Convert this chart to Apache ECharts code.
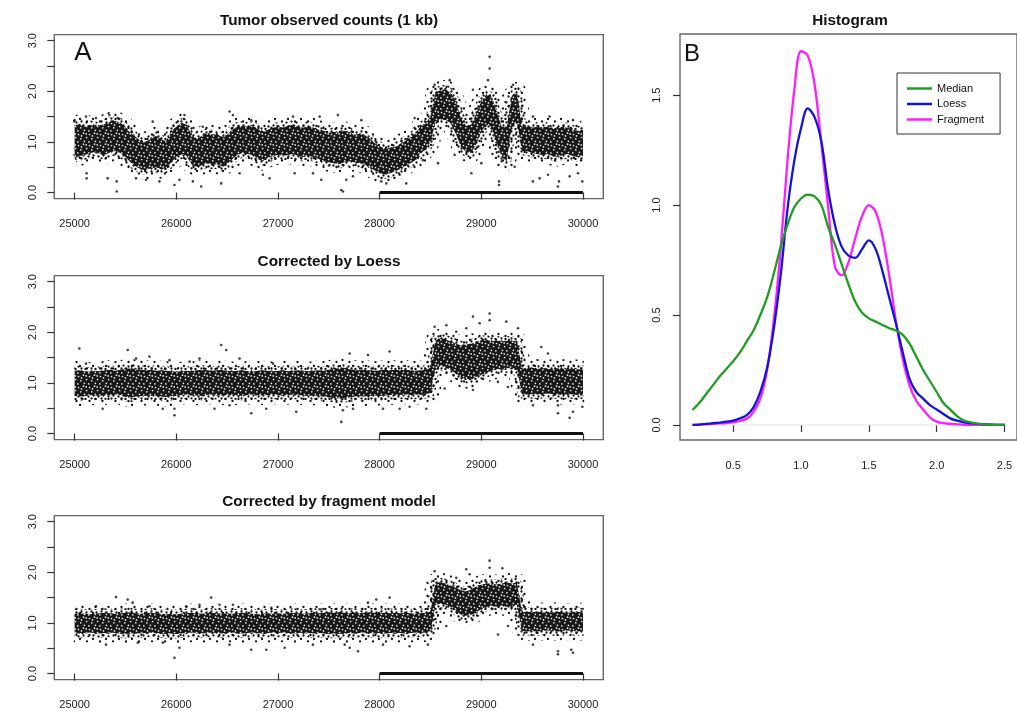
<!DOCTYPE html>
<html><head><meta charset="utf-8">
<script src="https://cdn.jsdelivr.net/npm/echarts@6/dist/echarts.min.js"></script>
<style>html,body{margin:0;padding:0;background:#fff}#c{width:1017px;height:711px}</style>
</head><body><div id="c"></div>
<script>
// ---------- DATA ----------
const titles = ['Tumor observed counts (1 kb)', 'Corrected by Loess', 'Corrected by fragment model'];
const xTicks = [25000, 26000, 27000, 28000, 29000, 30000];
const yTicks = [0, 0.5, 1, 1.5, 2, 2.5, 3];
const yLabels = [0, 1, 2, 3];
const binStart = 25000, binStep = 50;   // 50 kb bins for the dense core of each cloud
const barSegment = [28000, 30000];      // black bar drawn at y = 0

// dense core (lower / upper) of each point cloud, per bin
const tumorLo = [0.68,0.72,0.74,0.78,0.80,0.76,0.74,0.80,0.82,0.78,
 0.70,0.60,0.52,0.46,0.44,0.48,0.50,0.46,0.48,0.60,
 0.70,0.76,0.72,0.56,0.50,0.54,0.58,0.55,0.56,0.52,
 0.56,0.66,0.74,0.78,0.76,0.74,0.66,0.62,0.68,0.72,
 0.74,0.72,0.74,0.76,0.72,0.70,0.72,0.70,0.66,0.62,
 0.60,0.58,0.56,0.60,0.62,0.60,0.58,0.56,0.50,0.44,
 0.38,0.36,0.38,0.42,0.46,0.52,0.58,0.64,0.78,0.84,
 1.00,1.40,1.46,1.44,1.36,1.16,0.90,0.80,0.78,0.96,
 1.20,1.34,1.30,1.00,0.70,0.62,1.30,1.40,0.82,0.82,
 0.78,0.76,0.74,0.76,0.72,0.70,0.74,0.76,0.72,0.70,0.72];
const tumorHi = [1.32,1.36,1.30,1.34,1.30,1.33,1.36,1.40,1.42,1.38,
 1.30,1.18,1.10,1.02,1.00,1.06,1.12,1.05,1.02,1.20,
 1.30,1.38,1.34,1.14,1.05,1.12,1.18,1.15,1.14,1.10,
 1.14,1.24,1.30,1.32,1.30,1.32,1.26,1.20,1.24,1.28,
 1.30,1.28,1.32,1.34,1.30,1.28,1.32,1.28,1.24,1.22,
 1.18,1.20,1.18,1.22,1.20,1.14,1.16,1.14,1.06,0.98,
 0.92,0.86,0.88,0.90,0.96,1.02,1.08,1.16,1.30,1.36,
 1.50,1.98,2.02,2.04,1.96,1.80,1.46,1.32,1.34,1.56,
 1.80,1.94,1.90,1.60,1.30,1.30,1.90,2.00,1.30,1.32,
 1.28,1.30,1.28,1.30,1.26,1.26,1.30,1.28,1.24,1.22,1.24];
const loessLo = [0.74,0.73,0.74,0.76,0.75,0.74,0.76,0.75,0.77,0.76,
 0.72,0.71,0.73,0.74,0.74,0.75,0.74,0.73,0.72,0.74,
 0.74,0.76,0.77,0.76,0.75,0.74,0.76,0.77,0.76,0.75,
 0.76,0.77,0.75,0.74,0.76,0.77,0.76,0.75,0.76,0.77,
 0.76,0.75,0.76,0.77,0.76,0.75,0.74,0.75,0.74,0.73,
 0.72,0.70,0.69,0.70,0.71,0.73,0.74,0.73,0.74,0.75,
 0.74,0.75,0.76,0.75,0.76,0.77,0.76,0.77,0.76,0.78,
 0.80,1.32,1.34,1.30,1.26,1.18,1.10,1.08,1.06,1.12,
 1.16,1.20,1.24,1.28,1.26,1.30,1.28,1.30,0.78,0.77,
 0.78,0.77,0.78,0.79,0.78,0.77,0.76,0.78,0.77,0.76,0.78];
const loessHi = [1.24,1.25,1.23,1.22,1.24,1.23,1.25,1.26,1.24,1.26,
 1.28,1.29,1.27,1.26,1.25,1.26,1.24,1.25,1.24,1.23,
 1.22,1.23,1.24,1.23,1.25,1.26,1.25,1.24,1.25,1.26,
 1.24,1.23,1.24,1.25,1.23,1.22,1.24,1.25,1.24,1.23,
 1.24,1.25,1.23,1.24,1.25,1.24,1.23,1.24,1.25,1.24,
 1.26,1.28,1.29,1.30,1.27,1.26,1.25,1.26,1.25,1.24,
 1.25,1.26,1.25,1.26,1.25,1.26,1.25,1.24,1.25,1.26,
 1.30,1.86,1.88,1.86,1.82,1.78,1.74,1.76,1.78,1.80,
 1.84,1.86,1.82,1.84,1.82,1.84,1.82,1.84,1.28,1.29,
 1.30,1.28,1.29,1.28,1.27,1.29,1.28,1.27,1.28,1.27,1.26];
const fragLo = [0.80,0.79,0.80,0.81,0.80,0.79,0.80,0.81,0.80,0.79,
 0.78,0.79,0.80,0.79,0.80,0.81,0.80,0.79,0.78,0.79,
 0.78,0.79,0.80,0.81,0.80,0.79,0.80,0.81,0.80,0.79,
 0.80,0.81,0.80,0.79,0.80,0.81,0.80,0.79,0.80,0.81,
 0.80,0.81,0.80,0.79,0.80,0.81,0.80,0.79,0.80,0.79,
 0.78,0.79,0.78,0.79,0.80,0.79,0.80,0.81,0.80,0.79,
 0.80,0.79,0.80,0.81,0.80,0.79,0.80,0.81,0.80,0.81,
 0.84,1.36,1.38,1.36,1.32,1.24,1.16,1.14,1.16,1.20,
 1.28,1.32,1.34,1.32,1.34,1.32,1.34,1.36,0.84,0.83,
 0.84,0.83,0.84,0.85,0.84,0.83,0.84,0.85,0.84,0.83,0.84];
const fragHi = [1.18,1.19,1.18,1.17,1.18,1.19,1.20,1.19,1.18,1.19,
 1.20,1.21,1.19,1.18,1.19,1.20,1.19,1.18,1.17,1.18,
 1.17,1.18,1.19,1.20,1.19,1.18,1.19,1.20,1.19,1.18,
 1.19,1.18,1.19,1.20,1.19,1.18,1.17,1.18,1.19,1.18,
 1.19,1.18,1.19,1.20,1.19,1.18,1.19,1.20,1.19,1.20,
 1.21,1.20,1.21,1.20,1.19,1.20,1.19,1.20,1.21,1.20,
 1.19,1.20,1.19,1.20,1.19,1.20,1.19,1.18,1.19,1.20,
 1.22,1.80,1.80,1.78,1.74,1.70,1.64,1.62,1.66,1.72,
 1.76,1.78,1.78,1.76,1.78,1.80,1.78,1.80,1.21,1.22,
 1.21,1.22,1.21,1.20,1.21,1.22,1.21,1.20,1.21,1.22,1.20];

// scattered points outside the dense core [position kb, ratio]
const tumorPts = [[25000,1.43],[25112,1.50],[25118,0.38],[25118,0.28],[25342,1.53],[25325,0.28],[25414,0.22],[25414,0.02],
 [25424,1.47],[25210,1.47],[25604,0.28],[25703,0.25],[25768,1.40],[25834,0.22],[25982,0.15],[26031,0.25],[26080,1.53],
 [26163,0.22],[26245,0.12],[26261,1.30],[26442,0.18],[26524,1.60],[26557,1.53],[26622,0.38],[26737,1.43],[26852,0.35],
 [26918,0.28],[27148,1.50],[27164,0.38],[27345,0.38],[27410,1.50],[27426,0.25],[27590,1.53],[27623,0.05],[27639,0.02],
 [27672,0.25],[27738,0.32],[27820,1.43],[28016,0.22],[28066,0.18],[28197,0.35],[28262,0.18],[28344,1.47],[28426,0.64],
 [28541,2.13],[28689,2.22],[28574,0.58],[28738,0.74],[28918,2.03],[28902,0.38],[29000,0.58],[29066,2.22],[29082,2.45],
 [29082,2.68],[29174,0.22],[29174,0.15],[29312,2.13],[29328,0.51],[29508,0.22],[29574,0.28],[29656,0.35],[29754,0.12],
 [29764,0.22],[29869,0.32],[29951,0.38],[29994,0.22],[29508,1.50],[29672,1.50],[29902,1.43]];
const loessPts = [[25046,1.68],[25112,1.38],[25276,0.49],[25522,1.65],[25604,1.48],[25736,1.52],[25867,0.49],[25933,1.45],
 [25982,0.36],[25982,0.49],[26130,1.42],[26228,1.48],[26376,0.49],[26442,1.75],[26491,1.65],[26524,0.56],[26622,1.48],
 [26737,0.40],[26885,0.49],[27180,0.43],[26951,1.38],[27623,0.23],[27639,0.46],[27705,1.58],[27738,0.49],[27885,1.55],
 [28033,0.49],[28098,1.62],[28197,0.49],[28295,0.53],[28459,0.49],[28541,2.11],[28656,2.14],[28639,0.89],[28754,2.01],
 [28852,2.08],[28918,2.31],[28918,0.86],[28984,2.18],[29082,2.37],[29082,2.24],[29164,1.02],[29246,2.21],[29262,0.92],
 [29361,2.08],[29508,0.56],[29590,1.71],[29656,1.58],[29754,0.56],[29754,0.40],[29869,0.31],[29902,0.43],[29994,0.53]];
const fragPts = [[25210,1.33],[25309,0.57],[25407,1.51],[25522,1.46],[25571,1.40],[25621,0.61],[25736,1.33],[25867,0.61],
 [25982,0.31],[26031,0.51],[26097,1.33],[26228,1.36],[26343,1.50],[26425,1.36],[26524,0.57],[26557,1.36],[26737,0.47],
 [26885,0.47],[26934,1.30],[27066,0.51],[27344,0.57],[27410,1.27],[27656,0.57],[27705,0.51],[27787,0.44],[27885,1.40],
 [27967,1.46],[28098,1.50],[28033,0.57],[28295,0.54],[28475,0.57],[28541,2.02],[28656,0.94],[28754,1.89],[28852,2.06],
 [28885,1.96],[29082,2.23],[29082,2.09],[29207,2.08],[29164,0.77],[29262,0.94],[29508,0.57],[29754,0.44],[29754,0.38],
 [29885,0.47],[29902,0.41]];

// density curves (panel B)
const densX = [0.20,0.25,0.30,0.35,0.40,0.45,0.50,0.55,0.60,0.65,0.70,0.75,0.80,0.85,0.90,0.95,1.00,1.05,1.10,1.15,
 1.20,1.25,1.30,1.35,1.40,1.45,1.50,1.55,1.60,1.65,1.70,1.75,1.80,1.85,1.90,1.95,2.00,2.05,2.10,2.15,2.20,2.25,2.30,2.35,2.40,2.45,2.50];
const medianY = [0.068,0.10,0.14,0.18,0.22,0.255,0.29,0.33,0.38,0.43,0.50,0.58,0.69,0.81,0.91,0.99,1.03,1.048,1.04,1.00,
 0.90,0.82,0.73,0.64,0.56,0.51,0.485,0.47,0.455,0.44,0.43,0.41,0.37,0.31,0.25,0.20,0.15,0.10,0.07,0.04,0.02,0.012,0.006,0.003,0.001,0,0];
const loessY = [0,0.002,0.005,0.008,0.011,0.015,0.02,0.03,0.045,0.08,0.15,0.26,0.44,0.68,0.98,1.20,1.35,1.44,1.40,1.29,
 1.07,0.91,0.81,0.77,0.76,0.80,0.84,0.80,0.70,0.58,0.46,0.33,0.21,0.15,0.12,0.09,0.07,0.05,0.03,0.02,0.012,0.008,0.005,0.003,0.001,0,0];
const fragmentY = [0,0.001,0.003,0.005,0.007,0.009,0.012,0.018,0.028,0.06,0.12,0.25,0.48,0.80,1.20,1.52,1.70,1.68,1.55,1.28,
 0.99,0.72,0.68,0.74,0.85,0.95,1.00,0.97,0.86,0.68,0.47,0.30,0.18,0.11,0.07,0.035,0.015,0.008,0.005,0.003,0.001,0,0,0,0,0,0];
const histXTicks = [0.5, 1.0, 1.5, 2.0, 2.5];
const histYTicks = [0, 0.5, 1.0, 1.5];
const seriesNames = ['Median', 'Loess', 'Fragment'];

// ---------- TEXTURES (style only: speckle tiles that imitate a dense dot cloud) ----------
function tile(size, bg, dotColor, r, spots) {
  const c = document.createElement('canvas');
  c.width = c.height = size;
  const g = c.getContext('2d');
  if (bg) { g.fillStyle = bg; g.fillRect(0, 0, size, size); }
  g.fillStyle = dotColor;
  spots.forEach(s => { g.beginPath(); g.arc(s[0], s[1], r, 0, Math.PI * 2); g.fill(); });
  return {image: c, repeat: 'repeat'};
}
const coreFill = tile(11, '#181818', 'rgba(255,255,255,0.9)', 0.85,
  [[1.5,2.5],[6.5,1.2],[9.6,5.5],[3.8,6.8],[7.4,9.3],[0.8,9.9],[4.5,3.9],[9.2,1.9]]);
const midHalo = tile(10, null, '#111', 1.15, [[1.5,1.5],[6.5,2.5],[3.5,5.5],[8.5,6.5],[1.5,8.5],[5.5,9.0]]);
const outerHalo = tile(13, null, '#111', 1.15, [[2,2],[9,4.5],[4.5,9],[11.5,11]]);

// ---------- CHART ----------
const FONT = "'Liberation Sans', Arial, sans-serif";
const chart = echarts.init(document.getElementById('c'), null, {renderer: 'canvas'});
const panelTops = [34.6, 275.6, 515.6];
const grids = panelTops.map(t => ({left: 54.3, top: t, width: 549, height: 164, show: true, borderColor: '#666', borderWidth: 1.4, backgroundColor: 'transparent'}));
grids.push({left: 680, top: 34, width: 340.3, height: 406, show: true, borderColor: '#666', borderWidth: 1.4});

const tickStyle = {show: true, inside: false, length: 7, lineStyle: {color: '#333', width: 1.2}};
const xAxes = [0, 1, 2].map(i => ({type: 'value', gridIndex: i, min: 24800, max: 30200,
  axisLine: {show: false}, splitLine: {show: false},
  axisTick: Object.assign({customValues: xTicks}, tickStyle),
  axisLabel: {customValues: xTicks, formatter: v => String(v), margin: 20, fontSize: 11, color: '#222', fontFamily: FONT}}));
xAxes.push({type: 'value', gridIndex: 3, min: 0.108, max: 2.592, axisLine: {show: false}, splitLine: {show: false},
  axisTick: Object.assign({customValues: histXTicks}, tickStyle),
  axisLabel: {customValues: histXTicks, formatter: v => v.toFixed(1), margin: 20, fontSize: 11, color: '#222', fontFamily: FONT}});
const yAxes = [0, 1, 2].map(i => ({type: 'value', gridIndex: i, min: -0.12, max: 3.12,
  axisLine: {show: false}, splitLine: {show: false},
  axisTick: Object.assign({customValues: yTicks}, tickStyle),
  axisLabel: {customValues: yLabels, formatter: v => v.toFixed(1), rotate: 90, margin: 16, fontSize: 11, color: '#222', fontFamily: FONT}}));
yAxes.push({type: 'value', gridIndex: 3, min: -0.0684, max: 1.7784, axisLine: {show: false}, splitLine: {show: false},
  axisTick: Object.assign({customValues: histYTicks}, tickStyle),
  axisLabel: {customValues: histYTicks, formatter: v => v.toFixed(1), rotate: 90, margin: 18, fontSize: 11, color: '#222', fontFamily: FONT}});

function band(idx, lo, hi) {
  return {type: 'custom', xAxisIndex: idx, yAxisIndex: idx, silent: true, z: 2,
    data: [[binStart, lo[0]]],
    renderItem: (params, api) => {
      const top = [], bot = [];
      for (let i = 0; i < hi.length; i++) top.push(api.coord([binStart + i * binStep, hi[i]]));
      for (let i = 0; i < lo.length; i++) bot.push(api.coord([binStart + i * binStep, lo[i]]));
      const poly = top.concat(bot.slice().reverse());
      const edge = (p, w, pat) => ({type: 'polyline', shape: {points: p},
        style: {fill: 'none', stroke: pat, lineWidth: w, lineJoin: 'round', lineCap: 'butt'}});
      return {type: 'group', children: [
        edge(top, 19, outerHalo), edge(bot, 19, outerHalo),
        edge(top, 9, midHalo), edge(bot, 9, midHalo),
        {type: 'polygon', shape: {points: poly}, style: {fill: coreFill, stroke: 'none'}}
      ]};
    }};
}
function pts(idx, data) {
  return {type: 'scatter', xAxisIndex: idx, yAxisIndex: idx, data: data, symbolSize: 2.6, silent: true, z: 3,
    itemStyle: {color: '#111'}};
}
function bar(idx) {
  return {type: 'line', xAxisIndex: idx, yAxisIndex: idx, data: [[barSegment[0], 0], [barSegment[1], 0]], symbol: 'none', silent: true, z: 4,
    lineStyle: {color: '#111', width: 3}};
}
const cols = ['#1f9e1f', '#1414d8', '#ff1cff'];
const dens = [medianY, loessY, fragmentY].map((ys, k) => ({name: seriesNames[k], type: 'line', xAxisIndex: 3, yAxisIndex: 3,
  data: densX.map((x, i) => [x, ys[i]]), smooth: 0.35, symbol: 'none', z: 5 - k,
  lineStyle: {color: cols[k], width: 2.3}, itemStyle: {color: cols[k]}}));

const series = [
  band(0, tumorLo, tumorHi), pts(0, tumorPts), bar(0),
  band(1, loessLo, loessHi), pts(1, loessPts), bar(1),
  band(2, fragLo, fragHi), pts(2, fragPts), bar(2),
  {type: 'line', xAxisIndex: 3, yAxisIndex: 3, data: [[densX[0], 0], [densX[densX.length - 1], 0]], symbol: 'none', silent: true, z: 1,
   lineStyle: {color: '#e4e4e4', width: 1}},
  ...dens
];

const titleY = [20.7, 261.5, 501.7];
const TFONT = "bold 15.3px " + FONT;
const graphics = titles.map((t, i) => ({type: 'text', x: 329, y: titleY[i], silent: true,
  style: {text: t, font: TFONT, fill: '#111', textAlign: 'center', textVerticalAlign: 'middle'}}));
graphics.push({type: 'text', x: 850, y: 20.7, silent: true, style: {text: 'Histogram', font: TFONT, fill: '#111', textAlign: 'center', textVerticalAlign: 'middle'}});
graphics.push({type: 'text', x: 83, y: 53, silent: true, style: {text: 'A', font: "26px " + FONT, fill: '#111', textAlign: 'center', textVerticalAlign: 'middle'}});
graphics.push({type: 'text', x: 692, y: 54, silent: true, style: {text: 'B', font: "24px " + FONT, fill: '#111', textAlign: 'center', textVerticalAlign: 'middle'}});

chart.setOption({
  animation: false,
  backgroundColor: '#fff',
  grid: grids, xAxis: xAxes, yAxis: yAxes, series: series, graphic: graphics,
  legend: {data: seriesNames, orient: 'vertical', left: 897, top: 73, itemWidth: 25, itemHeight: 2.5, icon: 'rect', itemGap: 4.5,
    padding: [10, 16, 9, 10], borderColor: '#333', borderWidth: 1, backgroundColor: '#fff',
    textStyle: {fontSize: 11, color: '#111', fontFamily: FONT}, selectedMode: false}
});
</script></body></html>
